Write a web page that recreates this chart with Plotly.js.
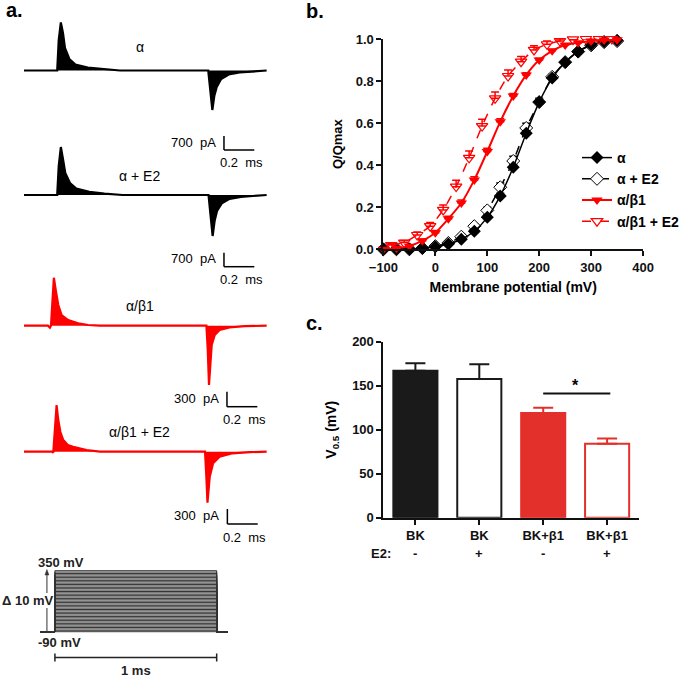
<!DOCTYPE html>
<html><head><meta charset="utf-8">
<script src="https://cdn.plot.ly/plotly-3.0.1.min.js"></script>
<style>html,body{margin:0;padding:0;background:#fff;}#chart{width:685px;height:677px;}</style>
</head><body><div id="chart"></div>
<script>
// ---------------- Panel a: gating-current envelopes (time ms, current pA) ----------------
const alphaT   = [0, 0.219, 0.229, 0.243, 0.257, 0.270, 0.299, 0.339, 0.421, 0.520, 0.632, 1.214, 1.227, 1.241, 1.254, 1.270, 1.299, 1.349, 1.421, 1.520, 1.6];
const alphaI   = [0, 0, 1525, 2400, 1875, 1125, 575, 300, 150, 75, 0, 0, -975, -1975, -1275, -825, -425, -200, -100, -35, 0];
const alphaE2T = [0, 0.219, 0.229, 0.243, 0.257, 0.272, 0.303, 0.345, 0.430, 0.530, 0.650, 1.216, 1.229, 1.243, 1.256, 1.272, 1.303, 1.355, 1.430, 1.530, 1.6];
const alphaE2I = [0, 0, 1450, 2400, 1800, 1100, 600, 320, 160, 70, 0, 0, -1000, -2050, -1300, -800, -420, -190, -90, -30, 0];
const b1T      = [0, 0.158, 0.171, 0.178, 0.188, 0.197, 0.211, 0.226, 0.248, 0.291, 0.357, 0.423, 0.5, 1.202, 1.211, 1.219, 1.228, 1.237, 1.257, 1.289, 1.355, 1.454, 1.6];
const b1I      = [0, 0, -40, 0, 514, 960, 680, 414, 214, 114, 48, 14, 0, 0, -486, -1186, -786, -386, -186, -86, -36, -10, 0];
const b1E2T    = [0, 0.184, 0.193, 0.203, 0.215, 0.226, 0.240, 0.259, 0.289, 0.324, 0.413, 0.5, 1.193, 1.201, 1.209, 1.224, 1.246, 1.289, 1.375, 1.487, 1.6];
const b1E2I    = [0, 0, -20, 434, 934, 634, 394, 234, 134, 100, 34, 0, 0, -466, -1020, -500, -232, -100, -32, -10, 0];
const traceLabels = ['α', 'α + E2', 'α/β1', 'α/β1 + E2'];
const scaleCurrents = [700, 700, 300, 300];   // pA
const scaleTime = 0.2;                         // ms

// ---------------- Voltage protocol ----------------
const stepVoltages = [-90,-80,-70,-60,-50,-40,-30,-20,-10,0,10,20,30,40,50,60,70,80,90,100,110,120,130,140,150,160,170,180,190,200,210,220,230,240,250,260,270,280,290,300,310,320,330,340,350];
const holdingV = -90;
const protocolT = [-0.09, 0, 0, 1, 1, 1.07];
const pulseLen = 1; // ms

// ---------------- Panel b: Q/Qmax vs membrane potential ----------------
const vAlpha   = [-100,-75,-50,-25,0,25,50,75,100,125,150,175,200,225,250,275,300,325,350];
const qAlpha   = [0, 0, 0, 0.005, 0.012, 0.025, 0.048, 0.086, 0.152, 0.254, 0.39, 0.552, 0.70, 0.814, 0.89, 0.941, 0.973, 0.987, 0.993];
const eAlpha   = [0, 0, 0, 0, 0.004, 0.005, 0.006, 0.008, 0.01, 0.012, 0.012, 0.012, 0.01, 0.008, 0.006, 0.005, 0.004, 0.003, 0.002];
const qAlphaE2 = [0, 0, 0, 0.006, 0.015, 0.03, 0.06, 0.11, 0.185, 0.295, 0.42, 0.577, 0.70, 0.82, 0.89, 0.94, 0.97, 0.985, 0.99];
const eAlphaE2 = [0, 0, 0, 0.003, 0.005, 0.007, 0.01, 0.012, 0.015, 0.02, 0.022, 0.022, 0.018, 0.012, 0.01, 0.008, 0.006, 0.004, 0.003];
const qB1      = [0, 0.005, 0.015, 0.041, 0.079, 0.145, 0.22, 0.33, 0.465, 0.607, 0.729, 0.829, 0.90, 0.944, 0.971, 0.982, 0.99, 0.995, 0.997];
const eB1      = [0.003, 0.004, 0.006, 0.008, 0.01, 0.012, 0.014, 0.015, 0.015, 0.014, 0.012, 0.01, 0.008, 0.006, 0.005, 0.004, 0.003, 0.002, 0.002];
const vB1E2    = [-85,-60,-35,-10,15,40,65,90,115,140,165,190,215,240,265,290,315,340];
const qB1E2    = [0.02, 0.032, 0.068, 0.11, 0.187, 0.298, 0.435, 0.586, 0.718, 0.824, 0.892, 0.948, 0.975, 0.99, 0.998, 1.0, 1.0, 1.0];
const eB1E2    = [0.008, 0.01, 0.014, 0.018, 0.024, 0.03, 0.032, 0.032, 0.03, 0.028, 0.025, 0.02, 0.015, 0.01, 0.008, 0.006, 0.005, 0.005];
const seriesNames = ['α', 'α + E2', 'α/β1', 'α/β1 + E2'];

// ---------------- Panel c: V0.5 bars ----------------
const barLabels = ['BK', 'BK', 'BK+β1', 'BK+β1'];
const e2Signs   = ['-', '+', '-', '+'];
const v05       = [167, 157.5, 119, 84];
const v05Err    = [8.5, 17, 6, 6];
const sigPair   = [2, 3];
const sigLevel  = 141;

// ================= layout helpers (pixels -> paper) =================
const W = 685, H = 677;
const px = p => p / W;
const py = p => 1 - p / H;
const dom = (top, bot) => [py(bot), py(top)];
const FONT = 'Liberation Sans, Arial, sans-serif';
const RED = '#ff0000', BARRED = '#e3302b', BLACK = '#000000';

const msPx = 152; // px per ms in trace panels
const groups = [
  {t: alphaT,   i: alphaI,   color: BLACK, base: 70.5,  pApp: 50, top: 12,  bot: 128, labelY: 47,  corner: [224.3, 150]},
  {t: alphaE2T, i: alphaE2I, color: BLACK, base: 195,   pApp: 50, top: 138, bot: 250, labelY: 176, corner: [224.3, 266.7]},
  {t: b1T,      i: b1I,      color: RED,   base: 325.7, pApp: 20, top: 262, bot: 392, labelY: 306, corner: [227.3, 406.7]},
  {t: b1E2T,    i: b1E2I,    color: RED,   base: 451.7, pApp: 20, top: 392, bot: 515, labelY: 432, corner: [227.7, 524]}
];

const data = [];
const layout = {
  width: W, height: H, margin: {l: 0, r: 0, t: 0, b: 0},
  paper_bgcolor: '#fff', plot_bgcolor: 'rgba(0,0,0,0)',
  font: {family: FONT, color: '#000'},
  showlegend: true,
  shapes: [], annotations: [],
  xaxis: {domain: [px(24), px(267.2)], range: [0, 1.6], visible: false, anchor: 'y', fixedrange: true}
};

groups.forEach((g, k) => {
  const yname = k === 0 ? 'yaxis' : 'yaxis' + (k + 1);
  const yref = k === 0 ? 'y' : 'y' + (k + 1);
  layout[yname] = {
    domain: dom(g.top, g.bot),
    range: [-(g.bot - g.base) * g.pApp, (g.base - g.top) * g.pApp],
    visible: false, anchor: 'x', fixedrange: true
  };
  data.push({
    type: 'scatter', mode: 'lines', x: g.t, y: g.i, xaxis: 'x', yaxis: yref,
    line: {color: g.color, width: 2.2}, fill: 'tozeroy', fillcolor: g.color,
    showlegend: false, hoverinfo: 'skip'
  });
  layout.annotations.push({xref: 'paper', yref: 'paper', x: px(140), y: py(g.labelY), text: traceLabels[k],
    showarrow: false, xanchor: 'center', yanchor: 'middle', font: {size: 14, family: FONT}});
  // scale bar
  const [cx, cy] = g.corner;
  const vLen = scaleCurrents[k] / g.pApp, hLen = scaleTime * msPx;
  layout.shapes.push({type: 'line', xref: 'paper', yref: 'paper', x0: px(cx), x1: px(cx), y0: py(cy), y1: py(cy - vLen), line: {color: '#000', width: 1.5}});
  layout.shapes.push({type: 'line', xref: 'paper', yref: 'paper', x0: px(cx), x1: px(cx + hLen), y0: py(cy), y1: py(cy), line: {color: '#000', width: 1.5}});
  layout.annotations.push({xref: 'paper', yref: 'paper', x: px(cx - 6), y: py(cy - vLen / 2 - 1), text: scaleCurrents[k] + '  pA',
    showarrow: false, xanchor: 'right', yanchor: 'middle', font: {size: 13, family: FONT}});
  layout.annotations.push({xref: 'paper', yref: 'paper', x: px(cx + hLen / 2 + 2), y: py(cy + 13), text: scaleTime + '  ms',
    showarrow: false, xanchor: 'center', yanchor: 'middle', font: {size: 13, family: FONT}});
});

// ---------------- protocol ----------------
layout.xaxis2 = {domain: [px(40), px(228)], range: [-0.0926, 1.0679], visible: false, anchor: 'y5', fixedrange: true};
layout.yaxis5 = {domain: dom(565, 635), range: [-113.8, 391], visible: false, anchor: 'x2', fixedrange: true};
stepVoltages.forEach(v => {
  data.push({type: 'scatter', mode: 'lines', x: protocolT, y: [holdingV, holdingV, v, v, holdingV, holdingV],
    xaxis: 'x2', yaxis: 'y5', line: {color: '#333', width: 1}, showlegend: false, hoverinfo: 'skip'});
});
const bold = {weight: 700, family: FONT, size: 13, color: '#222'};
layout.annotations.push({xref: 'paper', yref: 'paper', x: px(36), y: py(562), text: stepVoltages[stepVoltages.length - 1] + ' mV', showarrow: false, xanchor: 'left', yanchor: 'middle', font: bold});
layout.annotations.push({xref: 'paper', yref: 'paper', x: px(36), y: py(642), text: holdingV + ' mV', showarrow: false, xanchor: 'left', yanchor: 'middle', font: bold});
layout.annotations.push({xref: 'paper', yref: 'paper', x: px(0), y: py(600), text: 'Δ 10 mV', showarrow: false, xanchor: 'left', yanchor: 'middle', font: bold});
layout.shapes.push({type: 'line', xref: 'paper', yref: 'paper', x0: px(47), x1: px(47), y0: py(631), y1: py(608), line: {color: '#333', width: 1}});
layout.shapes.push({type: 'line', xref: 'paper', yref: 'paper', x0: px(47), x1: px(47), y0: py(593), y1: py(573), line: {color: '#333', width: 1}});
layout.shapes.push({type: 'path', xref: 'paper', yref: 'paper',
  path: `M ${px(45)} ${py(575)} L ${px(47)} ${py(569.5)} L ${px(49)} ${py(575)} Z`, fillcolor: '#333', line: {color: '#333', width: 0.5}});
// 1 ms bar
layout.shapes.push({type: 'line', xref: 'x2', yref: 'paper', x0: 0, x1: pulseLen, y0: py(657.5), y1: py(657.5), line: {color: '#222', width: 1.5}});
[0, pulseLen].forEach(t => layout.shapes.push({type: 'line', xref: 'x2', yref: 'paper', x0: t, x1: t, y0: py(653.5), y1: py(661.5), line: {color: '#222', width: 1.5}}));
layout.annotations.push({xref: 'x2', yref: 'paper', x: pulseLen / 2, y: py(670), text: pulseLen + ' ms', showarrow: false, xanchor: 'center', yanchor: 'middle', font: bold});

// ---------------- Panel b ----------------
const tickFont = {family: FONT, size: 13, weight: 700, color: '#111'};
layout.xaxis3 = {domain: [px(384), px(644)], range: [-100, 400], anchor: 'y6', showline: true, linecolor: '#111', linewidth: 2,
  ticks: 'outside', ticklen: 5, tickwidth: 2, tickcolor: '#111', tickvals: [-100, 0, 100, 200, 300, 400], tickfont: tickFont,
  showgrid: false, zeroline: false, fixedrange: true,
  title: {text: 'Membrane potential (mV)', font: {family: FONT, size: 14, weight: 700}, standoff: 8}};
layout.yaxis6 = {domain: dom(39, 249.3), range: [0, 1.0], anchor: 'x3', showline: true, linecolor: '#111', linewidth: 2,
  ticks: 'outside', ticklen: 5, tickwidth: 2, tickcolor: '#111', tickvals: [0, 0.2, 0.4, 0.6, 0.8, 1.0], tickformat: '.1f', tickfont: tickFont,
  showgrid: false, zeroline: false, fixedrange: true,
  title: {text: 'Q/Qmax', font: {family: FONT, size: 13, weight: 700}, standoff: 10}};
const errCfg = (arr, color) => ({type: 'data', symmetric: false, array: arr, arrayminus: arr.map(() => 0), color: color, thickness: 1.5, width: 4});
data.push({type: 'scatter', mode: 'lines+markers', name: seriesNames[1], x: vAlpha, y: qAlphaE2, xaxis: 'x3', yaxis: 'y6', legendrank: 2,
  line: {color: '#000', width: 1.5, dash: 'dash', shape: 'spline', smoothing: 0.7},
  marker: {symbol: 'diamond', size: 10, color: '#fff', line: {color: '#000', width: 1}}, error_y: errCfg(eAlphaE2, '#000'), cliponaxis: false});
data.push({type: 'scatter', mode: 'lines+markers', name: seriesNames[0], x: vAlpha, y: qAlpha, xaxis: 'x3', yaxis: 'y6', legendrank: 1,
  line: {color: '#000', width: 1.5, shape: 'spline', smoothing: 0.7},
  marker: {symbol: 'diamond', size: 10, color: '#000'}, error_y: errCfg(eAlpha, '#000'), cliponaxis: false});
data.push({type: 'scatter', mode: 'lines+markers', name: seriesNames[2], x: vAlpha, y: qB1, xaxis: 'x3', yaxis: 'y6', legendrank: 3,
  line: {color: RED, width: 2, shape: 'spline', smoothing: 0.7},
  marker: {symbol: 'triangle-down', size: 10, color: RED}, error_y: errCfg(eB1, RED), cliponaxis: false});
data.push({type: 'scatter', mode: 'lines+markers', name: seriesNames[3], x: vB1E2, y: qB1E2, xaxis: 'x3', yaxis: 'y6', legendrank: 4,
  line: {color: RED, width: 1.5, dash: 'dash', shape: 'spline', smoothing: 0.7},
  marker: {symbol: 'triangle-down-open', size: 10, color: RED, line: {width: 1.2}}, error_y: errCfg(eB1E2, RED), cliponaxis: false});
layout.legend = {x: px(578), y: py(142), xanchor: 'left', yanchor: 'top', bgcolor: 'rgba(0,0,0,0)',
  font: {family: FONT, size: 14, weight: 700}, itemwidth: 30, tracegroupgap: 0, traceorder: 'normal'};

// ---------------- Panel c ----------------
layout.xaxis4 = {domain: [px(384), px(640)], range: [-0.5, 3.5], anchor: 'y7', showline: true, linecolor: '#111', linewidth: 2,
  ticks: 'outside', ticklen: 5, tickwidth: 2, tickcolor: '#111', tickvals: [0, 1, 2, 3], ticktext: barLabels, tickfont: tickFont,
  showgrid: false, zeroline: false, fixedrange: true};
layout.yaxis7 = {domain: dom(341.7, 517.7), range: [0, 200], anchor: 'x4', showline: true, linecolor: '#111', linewidth: 2,
  ticks: 'outside', ticklen: 5, tickwidth: 2, tickcolor: '#111', tickvals: [0, 50, 100, 150, 200], tickfont: tickFont,
  showgrid: false, zeroline: false, fixedrange: true,
  title: {text: 'V<sub>0.5</sub> (mV)', font: {family: FONT, size: 14, weight: 700}, standoff: 12}};
layout.barmode = 'overlay';
const idx = [0, 1, 2, 3];
data.push({type: 'bar', x: idx.slice(0, 2), y: v05.slice(0, 2), xaxis: 'x4', yaxis: 'y7', width: 0.69, showlegend: false,
  marker: {color: ['#1a1a1a', '#ffffff'], line: {color: '#1a1a1a', width: 2}},
  error_y: {type: 'data', symmetric: false, array: v05Err.slice(0, 2), arrayminus: [0, 0], color: '#1a1a1a', thickness: 2, width: 10}});
data.push({type: 'bar', x: idx.slice(2), y: v05.slice(2), xaxis: 'x4', yaxis: 'y7', width: 0.69, showlegend: false,
  marker: {color: [BARRED, '#ffffff'], line: {color: BARRED, width: 2}},
  error_y: {type: 'data', symmetric: false, array: v05Err.slice(2), arrayminus: [0, 0], color: BARRED, thickness: 2, width: 10}});
layout.shapes.push({type: 'line', xref: 'x4', yref: 'y7', x0: sigPair[0], x1: sigPair[1] + 0.05, y0: sigLevel, y1: sigLevel, line: {color: '#111', width: 2}});
layout.annotations.push({xref: 'x4', yref: 'y7', x: (sigPair[0] + sigPair[1]) / 2, y: sigLevel + 9, text: '*', showarrow: false, xanchor: 'center', yanchor: 'middle', font: {family: FONT, size: 16, weight: 700}});
layout.annotations.push({xref: 'paper', yref: 'paper', x: px(382), y: py(553), text: 'E2:', showarrow: false, xanchor: 'center', yanchor: 'middle', font: tickFont});
e2Signs.forEach((s, k) => layout.annotations.push({xref: 'x4', yref: 'paper', x: k, y: py(553), text: s, showarrow: false, xanchor: 'center', yanchor: 'middle', font: tickFont}));

// ---------------- panel letters ----------------
[['a.', 4, 10], ['b.', 304, 11], ['c.', 304, 323]].forEach(([t, x, y]) => layout.annotations.push({
  xref: 'paper', yref: 'paper', x: px(x), y: py(y), text: t, showarrow: false, xanchor: 'left', yanchor: 'middle',
  font: {family: FONT, size: 20, weight: 700}}));

Plotly.newPlot('chart', data, layout, {staticPlot: true, displayModeBar: false});
</script></body></html>
